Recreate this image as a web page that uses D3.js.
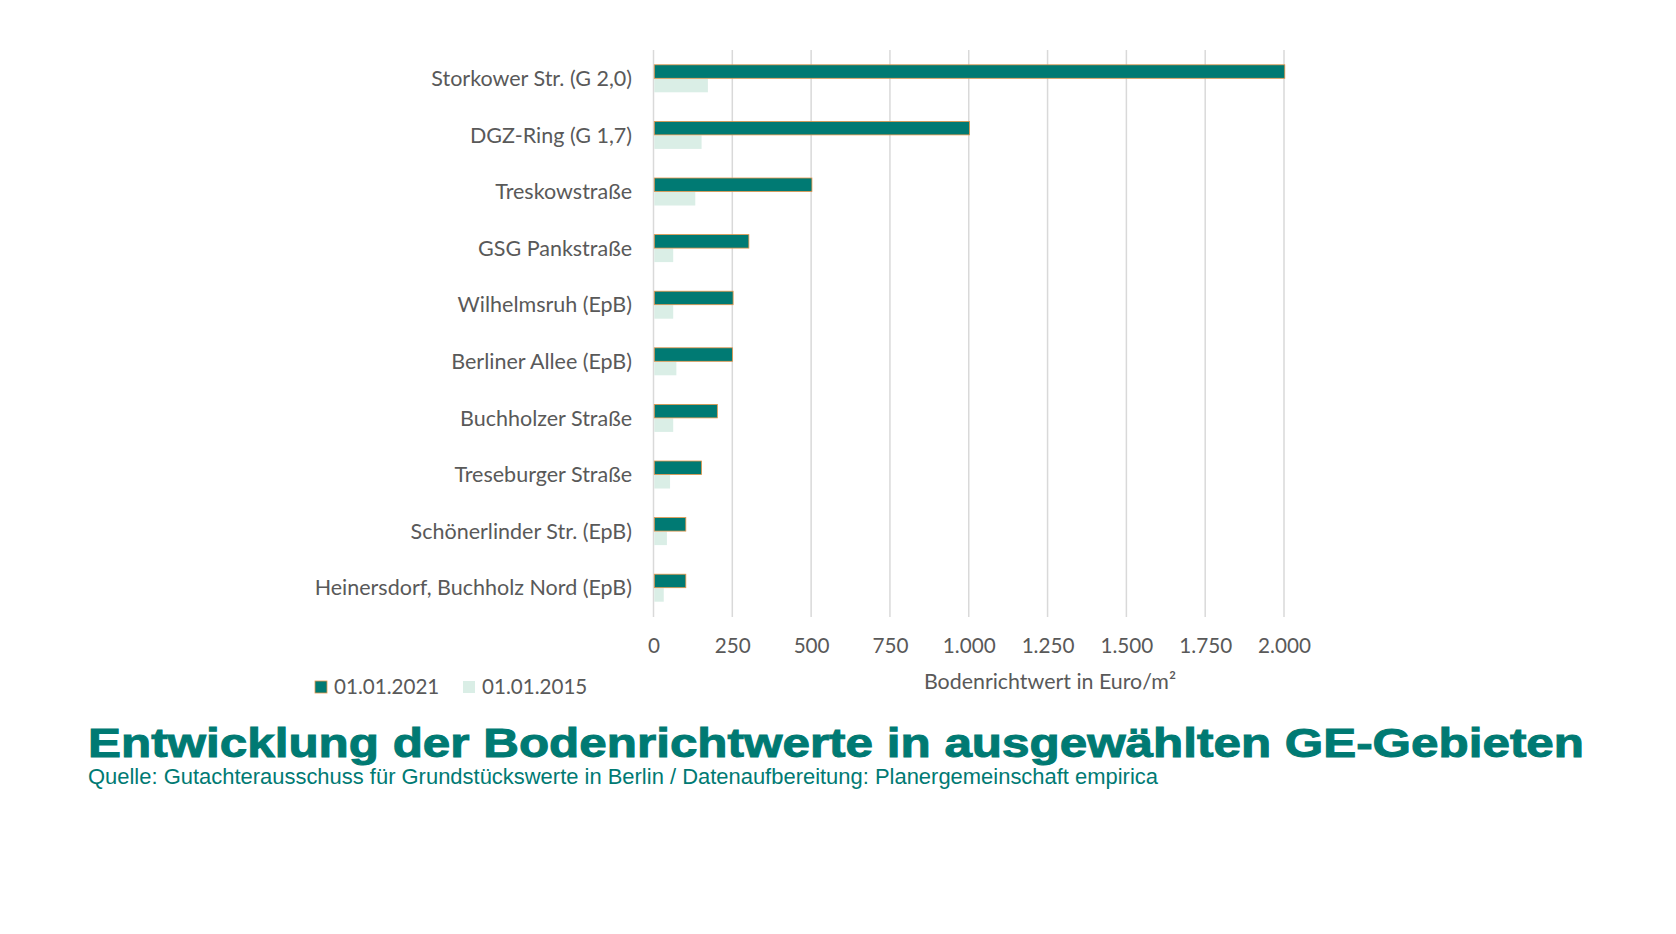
<!DOCTYPE html>
<html><head><meta charset="utf-8">
<script src="https://cdn.jsdelivr.net/npm/d3@7"></script>
<style>body{margin:0;background:#fff}svg{display:block}</style>
</head><body>
<svg id="c" width="1676" height="934"></svg>
<script>
const categories = ["Storkower Str. (G 2,0)","DGZ-Ring (G 1,7)","Treskowstraße","GSG Pankstraße","Wilhelmsruh (EpB)","Berliner Allee (EpB)","Buchholzer Straße","Treseburger Straße","Schönerlinder Str. (EpB)","Heinersdorf, Buchholz Nord (EpB)"];
const values2021 = [2000,1000,500,300,250,248,200,150,100,100];
const values2015 = [170,150,130,60,60,70,60,50,40,30];
const seriesNames = ["01.01.2021","01.01.2015"];
const tickValues = [0,250,500,750,1000,1250,1500,1750,2000];
const axisTitle = "Bodenrichtwert in Euro/m²";
const title = "Entwicklung der Bodenrichtwerte in ausgewählten GE-Gebieten";
const subtitle = "Quelle: Gutachterausschuss für Grundstückswerte in Berlin / Datenaufbereitung: Planergemeinschaft empirica";

const teal = "#007A73", light = "#DAEEE6", grid = "#D9D9D9", txt = "#595959";
const font = "Lato, 'Open Sans', sans-serif";
const svg = d3.select("#c");
const x = d3.scaleLinear().domain([0,2000]).range([653.5,1284]);
const y = d3.scaleBand().domain(categories).range([50,616]);
const barH = 13.5;
const fmt = d3.formatLocale({decimal:",",thousands:".",grouping:[3],currency:["","€"]}).format(",");

// gridlines
svg.append("g").selectAll("line").data(tickValues).join("line")
  .attr("x1",d=>x(d)).attr("x2",d=>x(d)).attr("y1",50).attr("y2",617)
  .attr("stroke",grid).attr("stroke-width",1.5);

// bars
const g = svg.append("g");
g.selectAll("rect.b15").data(categories).join("rect").attr("class","b15")
  .attr("x",x(0)+0.8).attr("y",d=>y(d)+y.bandwidth()/2+0.5)
  .attr("width",(d,i)=>x(values2015[i])-x(0)).attr("height",barH).attr("fill",light);
g.selectAll("rect.b21").data(categories).join("rect").attr("class","b21")
  .attr("x",x(0)+0.8).attr("y",d=>y(d)+y.bandwidth()/2-barH)
  .attr("width",(d,i)=>x(values2021[i])-x(0)).attr("height",barH).attr("fill",teal)
  .attr("stroke","#E8964A").attr("stroke-width",0.8);

// category labels
svg.append("g").selectAll("text").data(categories).join("text")
  .attr("x",632).attr("y",d=>y(d)+y.bandwidth()/2).attr("dy","0.36em")
  .attr("text-anchor","end").attr("font-family",font).attr("font-size",21.5).attr("fill",txt)
  .text(d=>d);

// x axis
const ax = svg.append("g").attr("transform","translate(0,632)")
  .call(d3.axisBottom(x).tickValues(tickValues).tickFormat(fmt).tickSize(0).tickPadding(0));
ax.select(".domain").remove();
ax.selectAll("text").attr("font-family",font).attr("font-size",20.7).attr("fill",txt).attr("dy","0.35em").attr("y",14);

svg.append("text").attr("x",1050).attr("y",682).attr("dy","0.35em").attr("text-anchor","middle")
  .attr("font-family",font).attr("font-size",21.4).attr("fill",txt).text(axisTitle);

// legend
const leg = svg.append("g");
const legX = [315,463];
leg.selectAll("rect").data(seriesNames).join("rect")
  .attr("x",(d,i)=>legX[i]).attr("y",681).attr("width",12).attr("height",12)
  .attr("fill",(d,i)=>i?light:teal).attr("stroke",(d,i)=>i?"none":"#E8964A").attr("stroke-width",0.8);
leg.selectAll("text").data(seriesNames).join("text")
  .attr("x",(d,i)=>legX[i]+19).attr("y",687).attr("dy","0.35em")
  .attr("font-family",font).attr("font-size",20.6).attr("fill",txt).text(d=>d);

// title
svg.append("text").attr("x",88).attr("y",757).attr("font-family","'Liberation Sans', Arial, sans-serif")
  .attr("font-weight","bold").attr("font-size",41).attr("fill",teal)
  .attr("stroke",teal).attr("stroke-width",1)
  .attr("textLength",1496).attr("lengthAdjust","spacingAndGlyphs").text(title);
svg.append("text").attr("x",88).attr("y",784).attr("font-family","'Liberation Sans Narrow', 'Liberation Sans', Arial, sans-serif")
  .attr("font-size",21.5).attr("fill",teal)
  .attr("textLength",1070).attr("lengthAdjust","spacingAndGlyphs").text(subtitle);
</script>
</body></html>
